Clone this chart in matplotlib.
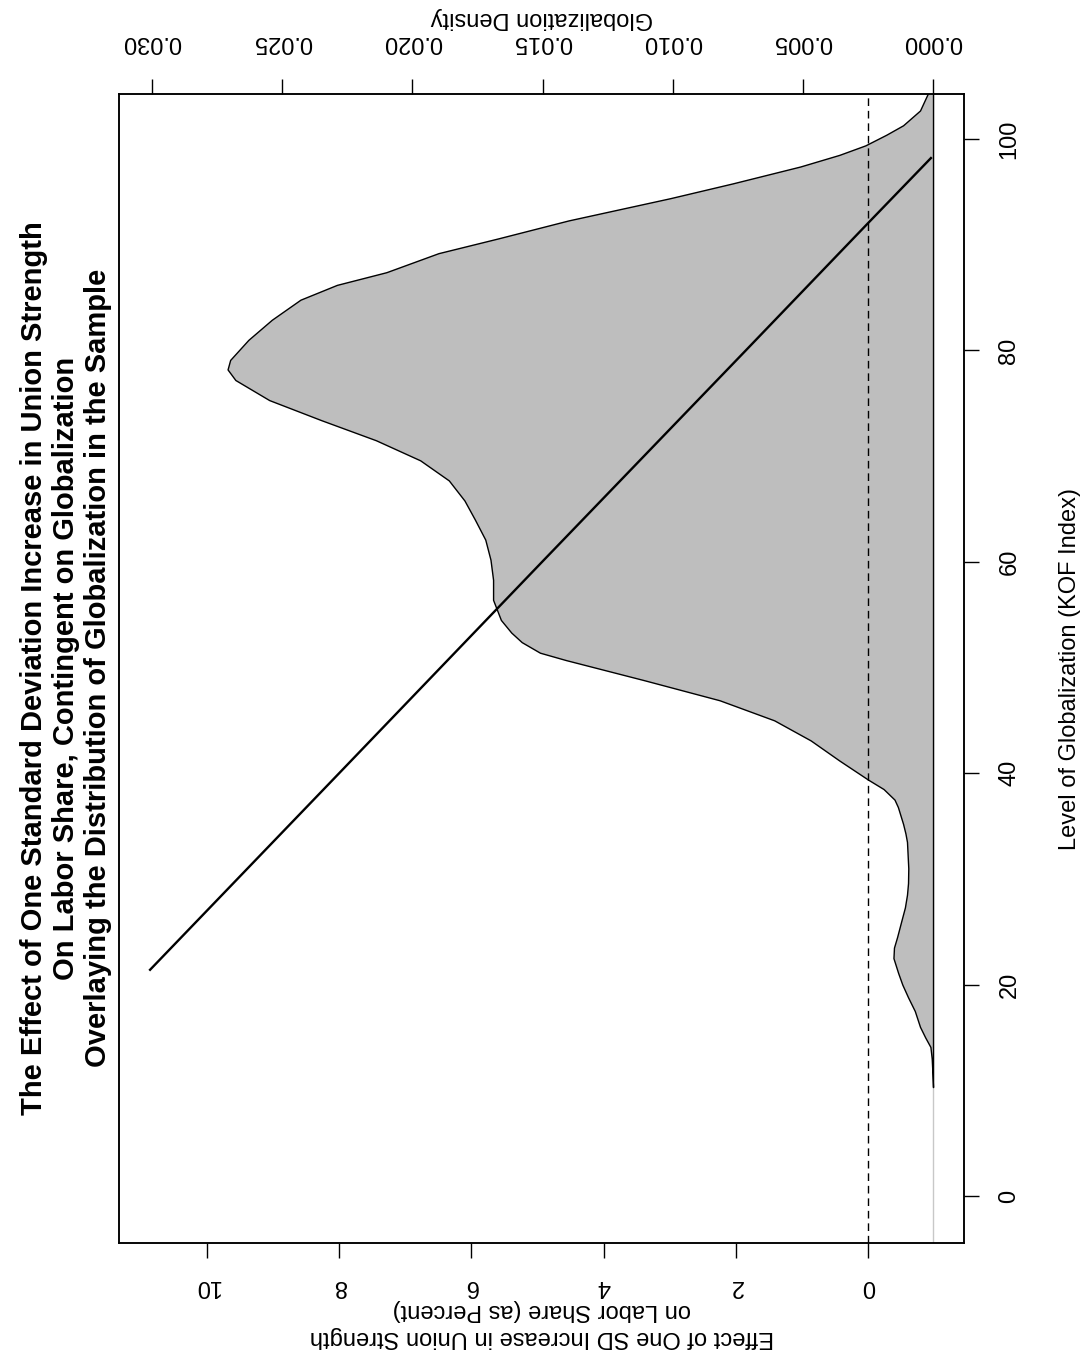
import numpy as np
import matplotlib
matplotlib.use("Agg")
import matplotlib.pyplot as plt

plt.rcParams['font.family'] = ['Liberation Sans', 'DejaVu Sans']

# globalization level (KOF index) and kernel density of the sample
glob_grid = [10.3, 12.0, 13.0, 14.1, 15.0, 16.0, 17.5, 18.8, 20.0, 21.1, 22.5,
             23.5, 24.5, 26.0, 27.3, 28.5, 29.6, 31.0, 32.5, 33.5, 34.3, 35.2,
             36.0, 36.8, 37.5, 38.5, 39.4, 41.2, 43.1, 45.0, 46.9, 48.8, 50.7,
             51.4, 52.4, 53.3, 54.5, 56.4, 58.3, 60.2, 62.1, 64.0, 65.8, 67.7,
             69.6, 71.5, 73.4, 75.3, 77.2, 78.2, 79.1, 81.0, 82.9, 84.8, 86.2,
             87.4, 88.3, 89.2, 90.6, 92.3, 93.0, 94.4, 95.8, 97.4, 98.5, 99.4,
             100.4, 101.3, 102.7, 104.3, 106.0]
glob_dens = [0.0, 0.00003, 0.00005, 0.0001, 0.0003, 0.0005, 0.0007, 0.00096,
             0.00118, 0.00134, 0.00152, 0.0015, 0.00138, 0.00122, 0.00108,
             0.001, 0.00096, 0.00095, 0.00098, 0.001, 0.00106, 0.00115,
             0.00125, 0.00135, 0.00148, 0.0019, 0.0025, 0.0036, 0.0047,
             0.0061, 0.0082, 0.0111, 0.0141, 0.0151, 0.0158, 0.0162, 0.0166,
             0.0169, 0.0169, 0.0170, 0.0172, 0.0176, 0.0180, 0.0186, 0.0197,
             0.0214, 0.0235, 0.0255, 0.0268, 0.0271, 0.0270, 0.0263, 0.0254,
             0.0243, 0.0229, 0.0210, 0.0200, 0.0190, 0.0167, 0.0140, 0.0127,
             0.0101, 0.0077, 0.0051, 0.0036, 0.0026, 0.0018, 0.00115, 0.0005,
             0.0002, 0.00003]

# marginal effect of a one SD increase in union strength
effect_glob = [21.4, 40.0, 60.0, 80.0, 92.05, 98.2]
effect_vals = [10.86, 8.00, 4.93, 1.85, 0.0, -0.95]

glob_ticks = [0, 20, 40, 60, 80, 100]
effect_ticks = [0, 2, 4, 6, 8, 10]
dens_ticks = [0.000, 0.005, 0.010, 0.015, 0.020, 0.025, 0.030]

title = ("The Effect of One Standard Deviation Increase in Union Strength\n"
         "On Labor Share, Contingent on Globalization\n"
         "Overlaying the Distribution of Globalization in the Sample")

W, H = 1086, 1363
fig = plt.figure(figsize=(W / 100, H / 100), dpi=100)

# plot box in pixels: left 119, right 964, top 94, bottom 1243
ax = fig.add_axes([119 / W, 1 - 1243 / H, 845 / W, 1149 / H])
ax2 = ax.twiny()

tick_kw = dict(direction='out', length=10.8, width=1.0, colors='black',
               labelsize=17)

# density (top axis) against globalization (right axis)
ax.axvline(0, color='#c8c8c8', lw=1.0, zorder=1)
ax.fill_betweenx(glob_grid, 0, glob_dens, facecolor='#bebebe',
                 edgecolor='black', lw=1.0, zorder=2)
ax.set_xlim(0.03127, -0.00119)
ax.set_ylim(-4.45, 104.26)
ax.xaxis.set_ticks_position('top')
ax.xaxis.set_label_position('top')
ax.set_xticks(dens_ticks)
ax.set_xticklabels(['%.3f' % d for d in dens_ticks], rotation=180)
ax.set_xlabel('Globalization Density', rotation=180, fontsize=17,
              labelpad=5)
ax.yaxis.tick_right()
ax.yaxis.set_label_position('right')
ax.set_yticks(glob_ticks)
ax.set_yticklabels([str(g) for g in glob_ticks], rotation=90, va='center')
ax.set_ylabel('Level of Globalization (KOF Index)', rotation=90,
              fontsize=17, labelpad=28)
ax.tick_params(axis='x', pad=19, **tick_kw)
ax.tick_params(axis='y', pad=14, **tick_kw)

# effect line (bottom axis)
ax2.axvline(0, color='black', lw=1.0, ls=(0, (5.5, 3.5)), zorder=3)
ax2.plot(effect_vals, effect_glob, color='black', lw=1.7, zorder=4)
ax2.set_xlim(11.33, -1.45)
ax2.xaxis.set_ticks_position('bottom')
ax2.xaxis.set_label_position('bottom')
ax2.set_xticks(effect_ticks)
ax2.set_xticklabels([str(e) for e in effect_ticks], rotation=180)
ax2.set_xlabel('Effect of One SD Increase in Union Strength\n'
               'on Labor Share (as Percent)', rotation=180, fontsize=17,
               labelpad=2, linespacing=1.25)
ax2.tick_params(axis='x', pad=12, **tick_kw)

for a in (ax, ax2):
    for s in a.spines.values():
        s.set_linewidth(1.1)
        s.set_color('black')

fig.text(66 / W, 1 - 668 / H, title, rotation=90, ha='center', va='center',
         multialignment='center', fontsize=21, fontweight='bold',
         linespacing=1.2)

fig.savefig('out.png', dpi=100, facecolor='white')
